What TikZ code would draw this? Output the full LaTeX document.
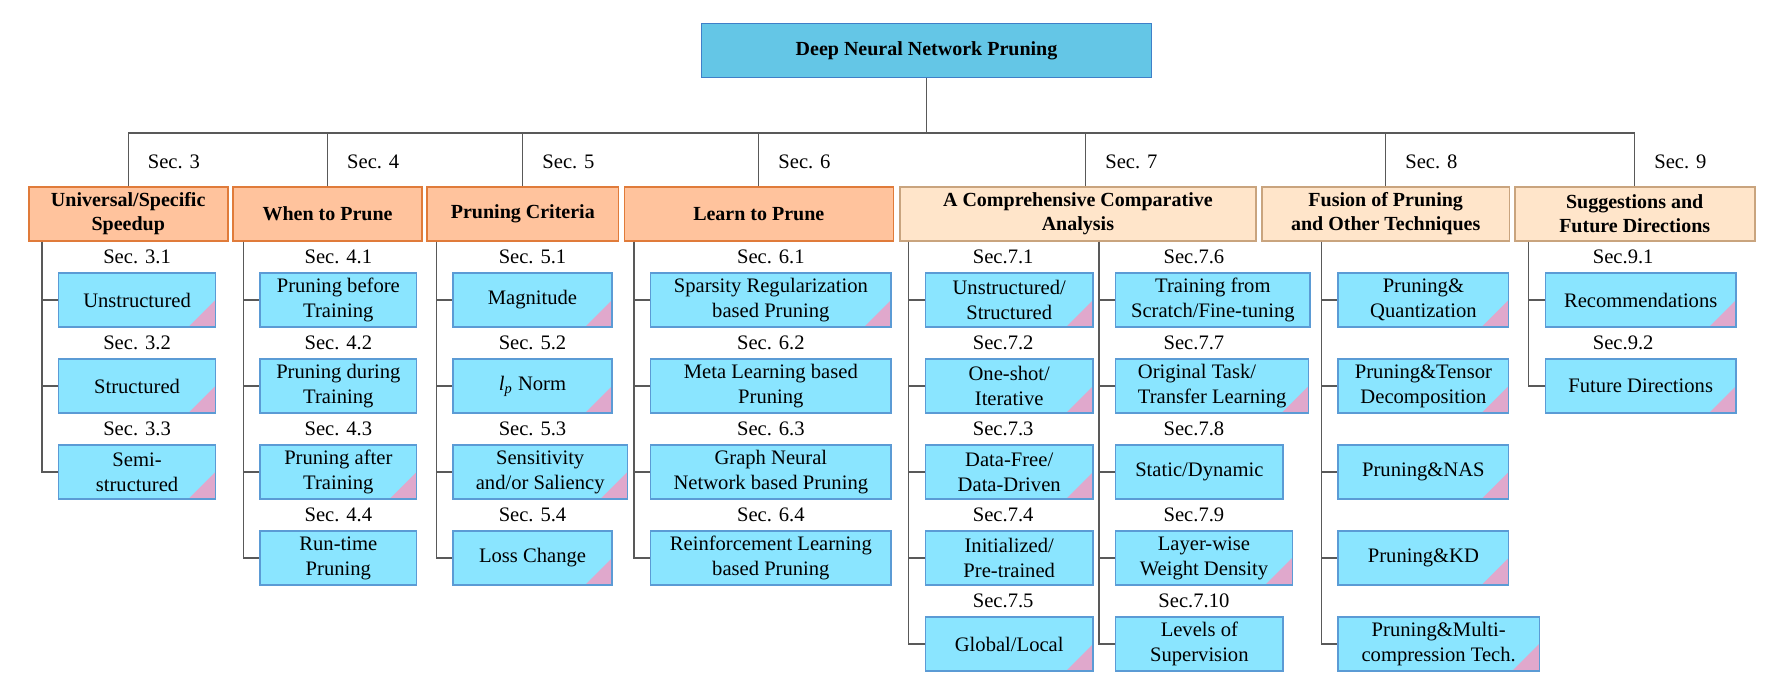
\documentclass[tikz,border=0pt]{standalone}
\usepackage{fontspec}
\setmainfont{Liberation Serif}
\usetikzlibrary{positioning}

\definecolor{rootfill}{HTML}{64C6E6}
\definecolor{rootline}{HTML}{3F7FC8}
\definecolor{peach}{HTML}{FFC39D}
\definecolor{peachline}{HTML}{E07B3A}
\definecolor{cream}{HTML}{FFE5CA}
\definecolor{creamline}{HTML}{C9A47E}
\definecolor{skyfill}{HTML}{8AE5FF}
\definecolor{skyline}{HTML}{5B9BD5}
\definecolor{corner}{HTML}{E0A8CC}
\definecolor{wire}{HTML}{595959}

\begin{document}
\begin{tikzpicture}[x = 1pt, y = 1pt, node distance = 43pt and 43pt, on grid,
                    link/.style = {draw = wire, line width = 0.65pt},
                    rootbox/.style = {draw = rootline, fill = rootfill, line width = 0.8pt,
                                      minimum width = 225pt, minimum height = 27pt,
                                      font = \fontsize{10}{12}\selectfont\bfseries},
                    headbox/.style = {line width = 0.8pt, align = center,
                                      minimum height = 27pt, inner sep = 1pt,
                                      font = \fontsize{10}{12}\selectfont\bfseries},
                    headA/.style = {headbox, draw = peachline, fill = peach},
                    headB/.style = {headbox, draw = creamline, fill = cream},
                    sub/.style = {draw = skyline, fill = skyfill, line width = 0.7pt,
                                  align = center, minimum width = #1, minimum height = 27pt,
                                  inner xsep = 2pt, inner ysep = 1pt,
                                  font = \fontsize{10.3}{12.5}\selectfont},
                    tri/.style = {path picture = {\fill[corner]
                                  (path picture bounding box.south east) -- ++(-13.5pt,0)
                                  -- ++(13.5pt,13.5pt) -- cycle;}},
                    seclab/.style = {font = \fontsize{10.3}{12.5}\selectfont, inner sep = 1pt}]

\useasboundingbox (0,0) rectangle (890.5,-347.5);

\node[rootbox] (dnn) at (463.25,-25.25) {Deep Neural Network Pruning};
\coordinate (bus) at (0,-66.5);

\node[headA, minimum width = 99.5pt]   (h3) at (64.1,-107)   {Universal/Specific\\Speedup};
\node[headA, minimum width = 94.5pt]   (h4) at (163.75,-107) {When to Prune};
\node[headA, minimum width = 95.85pt]  (h5) at (261.4,-107)  {Pruning Criteria};
\node[headA, minimum width = 134.5pt]  (h6) at (379.4,-107)  {Learn to Prune};
\node[headB, minimum width = 178.15pt] (h7) at (538.95,-107) {A Comprehensive Comparative\\Analysis};
\node[headB, minimum width = 123.75pt] (h8) at (692.85,-107) {Fusion of Pruning\\and Other Techniques};
\node[headB, minimum width = 120pt]    (h9) at (817.35,-107) {Suggestions and\\Future Directions};

\node[sub = 78.35pt, tri, anchor = west] (b31) at (29,-150) {Unstructured};
\node[sub = 78.35pt, tri, below = of b31.west, anchor = west] (b32) {Structured};
\node[sub = 78.35pt, tri, below = of b32.west, anchor = west] (b33) {Semi-\\structured};

\node[sub = 78.35pt, anchor = west] (b41) at (129.65,-150) {Pruning before\\Training};
\node[sub = 78.35pt, below = of b41.west, anchor = west] (b42) {Pruning during\\Training};
\node[sub = 78.35pt, tri, below = of b42.west, anchor = west] (b43) {Pruning after\\Training};
\node[sub = 78.35pt, below = of b43.west, anchor = west] (b44) {Run-time\\Pruning};

\node[sub = 79.5pt, tri, anchor = west] (b51) at (226.15,-150) {Magnitude};
\node[sub = 79.5pt, tri, below = of b51.west, anchor = west] (b52) {\textit{l}\textsubscript{\textit{p}} Norm};
\node[sub = 87.2pt, tri, below = of b52.west, anchor = west] (b53) {Sensitivity\\and/or Saliency};
\node[sub = 79.5pt, tri, below = of b53.west, anchor = west] (b54) {Loss Change};

\node[sub = 120.15pt, tri, anchor = west] (b61) at (325,-150) {Sparsity Regularization\\based Pruning};
\node[sub = 120.15pt, below = of b61.west, anchor = west] (b62) {Meta Learning based\\Pruning};
\node[sub = 120.15pt, below = of b62.west, anchor = west] (b63) {Graph Neural\\Network based Pruning};
\node[sub = 120.15pt, below = of b63.west, anchor = west] (b64) {Reinforcement Learning\\based Pruning};

\node[sub = 83.8pt, tri, anchor = west] (b71) at (462.35,-150) {Unstructured/\\Structured};
\node[sub = 83.8pt, tri, below = of b71.west, anchor = west] (b72) {One-shot/\\Iterative};
\node[sub = 83.8pt, tri, below = of b72.west, anchor = west] (b73) {Data-Free/\\Data-Driven};
\node[sub = 83.8pt, below = of b73.west, anchor = west] (b74) {Initialized/\\Pre-trained};
\node[sub = 83.8pt, tri, below = of b74.west, anchor = west] (b75) {Global/Local};

\node[sub = 97.15pt, anchor = west] (b76) at (557.5,-150) {Training from\\Scratch/Fine-tuning};
\node[sub = 96.5pt, tri, align = left, below = of b76.west, anchor = west] (b77) {Original Task/\\Transfer Learning};
\node[sub = 83.65pt, below = of b77.west, anchor = west] (b78) {Static/Dynamic};
\node[sub = 88.25pt, tri, below = of b78.west, anchor = west] (b79) {Layer-wise\\Weight Density};
\node[sub = 83.65pt, below = of b79.west, anchor = west] (b710) {Levels of\\Supervision};

\node[sub = 85.3pt, tri, anchor = west] (b81) at (668.7,-150) {Pruning\&\\Quantization};
\node[sub = 85.3pt, tri, below = of b81.west, anchor = west] (b82) {Pruning\&Tensor\\Decomposition};
\node[sub = 85.3pt, tri, below = of b82.west, anchor = west] (b83) {Pruning\&NAS};
\node[sub = 85.3pt, tri, below = of b83.west, anchor = west] (b84) {Pruning\&KD};
\node[sub = 100.55pt, tri, below = of b84.west, anchor = west] (b85) {Pruning\&Multi-\\compression Tech.};

\node[sub = 95.35pt, tri, anchor = west] (b91) at (772.3,-150) {Recommendations};
\node[sub = 95.35pt, tri, below = of b91.west, anchor = west] (b92) {Future Directions};

\node[seclab, above = 21.5pt of b31] (l31) {Sec. 3.1};
\node[seclab, below = of l31] (l32) {Sec. 3.2};
\node[seclab, below = of l32] (l33) {Sec. 3.3};

\node[seclab, above = 21.5pt of b41] (l41) {Sec. 4.1};
\node[seclab, below = of l41] (l42) {Sec. 4.2};
\node[seclab, below = of l42] (l43) {Sec. 4.3};
\node[seclab, below = of l43] (l44) {Sec. 4.4};

\node[seclab, above = 21.5pt of b51] (l51) {Sec. 5.1};
\node[seclab, below = of l51] (l52) {Sec. 5.2};
\node[seclab, below = of l52] (l53) {Sec. 5.3};
\node[seclab, below = of l53] (l54) {Sec. 5.4};

\node[seclab, above = 21.5pt of b61] (l61) {Sec. 6.1};
\node[seclab, below = of l61] (l62) {Sec. 6.2};
\node[seclab, below = of l62] (l63) {Sec. 6.3};
\node[seclab, below = of l63] (l64) {Sec. 6.4};

\node[seclab, above = 21.5pt of b71, xshift = -3pt] (l71) {Sec.7.1};
\node[seclab, below = of l71] (l72) {Sec.7.2};
\node[seclab, below = of l72] (l73) {Sec.7.3};
\node[seclab, below = of l73] (l74) {Sec.7.4};
\node[seclab, below = of l74] (l75) {Sec.7.5};

\node[seclab, above = 21.5pt of b76, xshift = -9.45pt] (l76) {Sec.7.6};
\node[seclab, below = of l76] (l77) {Sec.7.7};
\node[seclab, below = of l77] (l78) {Sec.7.8};
\node[seclab, below = of l78] (l79) {Sec.7.9};
\node[seclab, below = of l79] (l710) {Sec.7.10};

\node[seclab, above = 21.5pt of b91, xshift = -8.75pt] (l91) {Sec.9.1};
\node[seclab, below = of l91] (l92) {Sec.9.2};

\draw[link] (dnn) -- (dnn |- bus);
\draw[link] (h3.north |- bus) -- (h9.north |- bus);
\draw[link] (h3) -- node[seclab, anchor = west, xshift = 8.5pt, yshift = -1.25pt] (s3) {Sec. 3} (h3 |- bus);
\draw[link] (h4) -- node[seclab, anchor = west, xshift = 8.5pt, yshift = -1.25pt] (s4) {Sec. 4} (h4 |- bus);
\draw[link] (h5) -- node[seclab, anchor = west, xshift = 8.5pt, yshift = -1.25pt] (s5) {Sec. 5} (h5 |- bus);
\draw[link] (h6) -- node[seclab, anchor = west, xshift = 8.5pt, yshift = -1.25pt] (s6) {Sec. 6} (h6 |- bus);
\draw[link] ([xshift = 3.9pt]h7.north) -- node[seclab, anchor = west, xshift = 8.5pt, yshift = -1.25pt] (s7) {Sec. 7} ([xshift = 3.9pt]h7.north |- bus);
\draw[link] (h8) -- node[seclab, anchor = west, xshift = 8.5pt, yshift = -1.25pt] (s8) {Sec. 8} (h8 |- bus);
\draw[link] (h9) -- node[seclab, anchor = west, xshift = 8.5pt, yshift = -1.25pt] (s9) {Sec. 9} (h9 |- bus);

\foreach \b in {b31,b32,b33}
  \draw[link] ([xshift = -8pt]b31.west |- h3.south) |- (\b.west);
\foreach \b in {b41,b42,b43,b44}
  \draw[link] ([xshift = -8pt]b41.west |- h4.south) |- (\b.west);
\foreach \b in {b51,b52,b53,b54}
  \draw[link] ([xshift = -8pt]b51.west |- h5.south) |- (\b.west);
\foreach \b in {b61,b62,b63,b64}
  \draw[link] ([xshift = -8pt]b61.west |- h6.south) |- (\b.west);
\foreach \b in {b71,b72,b73,b74,b75}
  \draw[link] ([xshift = -8pt]b71.west |- h7.south) |- (\b.west);
\foreach \b in {b76,b77,b78,b79,b710}
  \draw[link] ([xshift = -8pt]b76.west |- h7.south) |- (\b.west);
\foreach \b in {b81,b82,b83,b84,b85}
  \draw[link] ([xshift = -8pt]b81.west |- h8.south) |- (\b.west);
\foreach \b in {b91,b92}
  \draw[link] ([xshift = -8pt]b91.west |- h9.south) |- (\b.west);

\end{tikzpicture}
\end{document}
